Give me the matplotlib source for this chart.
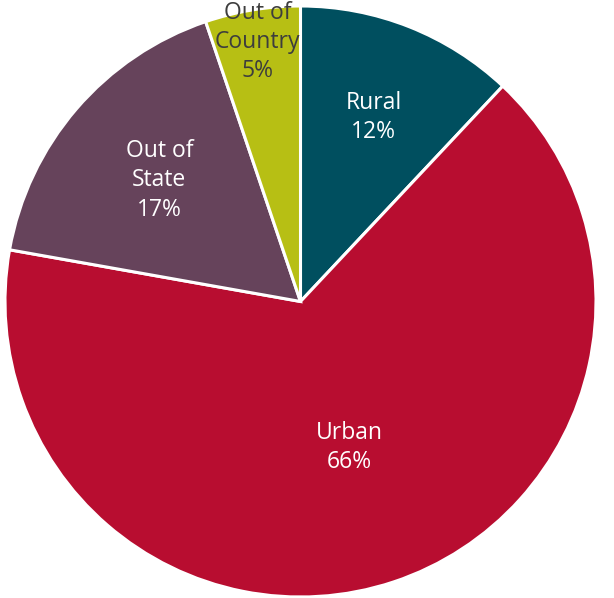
import numpy as np
import matplotlib.pyplot as plt

# data
names = ['Rural', 'Urban', 'Out of\nState', 'Out of\nCountry']
shares = [12.0, 65.8, 17.0, 5.2]
colors = ['#004f5f', '#b80d30', '#66435b', '#b7bf14']
text_colors = ['white', 'white', 'white', '#3d3d3d']
label_r = [0.67, 0.52, 0.63, 0.89]

fig = plt.figure(figsize=(6.14, 5.98), dpi=100)
ax = fig.add_axes([0, 0, 1, 1])

wedges, _ = ax.pie(shares, colors=colors, startangle=90, counterclock=False,
                   radius=1, wedgeprops=dict(edgecolor='white', linewidth=2.2))

# labels inside the wedges
for w, name, val, tc, r in zip(wedges, names, shares, text_colors, label_r):
    ang = np.deg2rad((w.theta1 + w.theta2) / 2)
    ax.text(r * np.cos(ang), r * np.sin(ang), f'{name}\n{round(val)}%',
            ha='center', va='center', color=tc, fontsize=16.5,
            family='Open Sans', linespacing=1.3)

ax.set_xlim(-1.0169, 1.0609)
ax.set_ylim(-1.0034, 1.0203)
ax.set_aspect('auto')
ax.axis('off')

fig.savefig('out.png', dpi=100)
